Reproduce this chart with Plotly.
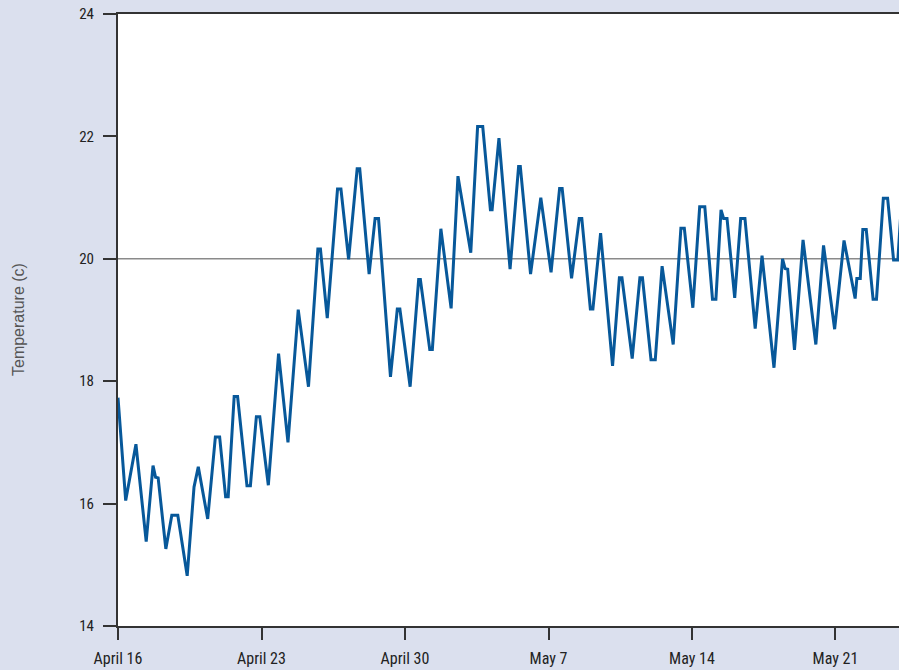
import plotly.graph_objects as go

# Readings (timestamp, temperature °C)
times = [
    "2015-04-16 00:00", "2015-04-16 09:00", "2015-04-16 21:00", "2015-04-17 09:00",
    "2015-04-17 17:00", "2015-04-17 20:00", "2015-04-17 23:00", "2015-04-18 08:00",
    "2015-04-18 15:00", "2015-04-18 22:00", "2015-04-19 09:00", "2015-04-19 17:00",
    "2015-04-19 22:00", "2015-04-20 09:00", "2015-04-20 18:00", "2015-04-20 23:00",
    "2015-04-21 06:00", "2015-04-21 09:00", "2015-04-21 16:00", "2015-04-21 20:00",
    "2015-04-22 07:00", "2015-04-22 11:00", "2015-04-22 18:00", "2015-04-22 22:00",
    "2015-04-23 08:00", "2015-04-23 20:00", "2015-04-24 07:00", "2015-04-24 19:00",
    "2015-04-25 07:00", "2015-04-25 18:00", "2015-04-25 21:00", "2015-04-26 05:00",
    "2015-04-26 17:00", "2015-04-26 21:00", "2015-04-27 06:00", "2015-04-27 16:00",
    "2015-04-27 19:00", "2015-04-28 06:00", "2015-04-28 13:00", "2015-04-28 17:00",
    "2015-04-29 07:00", "2015-04-29 15:00", "2015-04-29 18:00", "2015-04-30 06:00",
    "2015-04-30 16:00", "2015-04-30 18:00", "2015-05-01 05:00", "2015-05-01 08:00",
    "2015-05-01 18:00", "2015-05-02 06:00", "2015-05-02 14:00", "2015-05-03 05:00",
    "2015-05-03 13:00", "2015-05-03 19:00", "2015-05-04 04:00", "2015-05-04 06:00",
    "2015-05-04 14:00", "2015-05-05 03:00", "2015-05-05 13:00", "2015-05-05 15:00",
    "2015-05-06 03:00", "2015-05-06 15:00", "2015-05-07 03:00", "2015-05-07 13:00",
    "2015-05-07 16:00", "2015-05-08 03:00", "2015-05-08 12:00", "2015-05-08 15:00",
    "2015-05-09 01:00", "2015-05-09 04:00", "2015-05-09 13:00", "2015-05-10 03:00",
    "2015-05-10 11:00", "2015-05-10 14:00", "2015-05-11 02:00", "2015-05-11 11:00",
    "2015-05-11 14:00", "2015-05-12 00:00", "2015-05-12 05:00", "2015-05-12 13:00",
    "2015-05-13 02:00", "2015-05-13 11:00", "2015-05-13 15:00", "2015-05-14 01:00",
    "2015-05-14 09:00", "2015-05-14 15:00", "2015-05-15 00:00", "2015-05-15 04:00",
    "2015-05-15 10:00", "2015-05-15 13:00", "2015-05-15 17:00", "2015-05-16 02:00",
    "2015-05-16 09:00", "2015-05-16 14:00", "2015-05-17 02:00", "2015-05-17 10:00",
    "2015-05-18 00:00", "2015-05-18 10:00", "2015-05-18 13:00", "2015-05-18 16:00",
    "2015-05-19 00:00", "2015-05-19 10:00", "2015-05-20 01:00", "2015-05-20 10:00",
    "2015-05-20 23:00", "2015-05-21 10:00", "2015-05-21 23:00", "2015-05-22 01:00",
    "2015-05-22 05:00", "2015-05-22 08:00", "2015-05-22 12:00", "2015-05-22 20:00",
    "2015-05-23 00:00", "2015-05-23 08:00", "2015-05-23 13:00", "2015-05-23 20:00",
    "2015-05-24 01:00", "2015-05-24 07:00",
]

temps = [
    17.73, 16.05, 16.97, 15.38,
    16.62, 16.43, 16.42, 15.26,
    15.81, 15.81, 14.82, 16.27,
    16.60, 15.75, 17.09, 17.09,
    16.11, 16.11, 17.75, 17.75,
    16.29, 16.29, 17.42, 17.42,
    16.30, 18.45, 17.00, 19.17,
    17.91, 20.16, 20.16, 19.03,
    21.14, 21.14, 19.99, 21.47,
    21.47, 19.75, 20.66, 20.66,
    18.07, 19.18, 19.18, 17.91,
    19.66, 19.66, 18.52, 18.52,
    20.49, 19.19, 21.35, 20.10,
    22.16, 22.16, 20.80, 20.80,
    21.97, 19.83, 21.51, 21.51,
    19.75, 21.00, 19.78, 21.15,
    21.15, 19.68, 20.66, 20.66,
    19.18, 19.18, 20.42, 18.25,
    19.69, 19.69, 18.37, 19.69,
    19.69, 18.35, 18.35, 19.88,
    18.60, 20.50, 20.50, 19.20,
    20.85, 20.85, 19.34, 19.34,
    20.80, 20.66, 20.66, 19.36,
    20.66, 20.66, 18.86, 20.05,
    18.22, 20.00, 19.84, 19.83,
    18.51, 20.31, 18.60, 20.22,
    18.85, 20.30, 19.35, 19.68,
    19.68, 20.48, 20.48, 19.34,
    19.34, 20.99, 20.99, 19.98,
    19.98, 21.30,
]

tick_dates = ["2015-04-16", "2015-04-23", "2015-04-30", "2015-05-07", "2015-05-14", "2015-05-21"]
tick_labels = ["April 16", "April 23", "April 30", "May 7", "May 14", "May 21"]
y_ticks = [14, 16, 18, 20, 22, 24]
reference_temp = 20

narrow = "Liberation Sans Narrow, Arial Narrow, Roboto Condensed, Liberation Sans, sans-serif"

fig = go.Figure()
fig.add_trace(go.Scatter(
    x=times, y=temps, mode="lines",
    line=dict(color="#07589a", width=3),
    hoverinfo="x+y", showlegend=False,
))

fig.add_shape(type="line", xref="paper", yref="y", x0=0, x1=1,
              y0=reference_temp, y1=reference_temp,
              line=dict(color="#8a8a8a", width=1.5), layer="below")

fig.update_layout(
    width=899, height=670,
    margin=dict(l=118, r=0, t=14, b=44),
    paper_bgcolor="#dbe0ee",
    plot_bgcolor="#ffffff",
    xaxis=dict(
        type="date",
        range=["2015-04-16 00:00", "2015-05-24 02:21"],
        tickvals=tick_dates, ticktext=tick_labels,
        ticks="outside", ticklen=12, tickwidth=2, tickcolor="#333333",
        showline=True, linecolor="#333333", linewidth=2, mirror=True,
        showgrid=False, zeroline=False,
        tickfont=dict(family=narrow, size=16, color="#222222"),
        ticklabelstandoff=5,
    ),
    yaxis=dict(
        range=[14, 24],
        tickvals=y_ticks,
        ticks="outside", ticklen=13, tickwidth=2, tickcolor="#333333",
        showline=True, linecolor="#333333", linewidth=2, mirror=False,
        showgrid=False, zeroline=False,
        tickfont=dict(family=narrow, size=15, color="#222222"),
        ticklabelstandoff=6,
    ),
    annotations=[dict(
        text="Temperature (c)", xref="paper", yref="paper",
        x=0, y=0.5, xshift=-100, xanchor="center", yanchor="middle",
        textangle=-90, showarrow=False,
        font=dict(family="Liberation Sans, Arial, sans-serif", size=16, color="#555555"),
    )],
)

fig.write_html(
    "out.html",
    config={"displayModeBar": False},
    post_script="document.body.style.margin='0';document.body.style.padding='0';"
                "document.documentElement.style.overflow='hidden';",
)
